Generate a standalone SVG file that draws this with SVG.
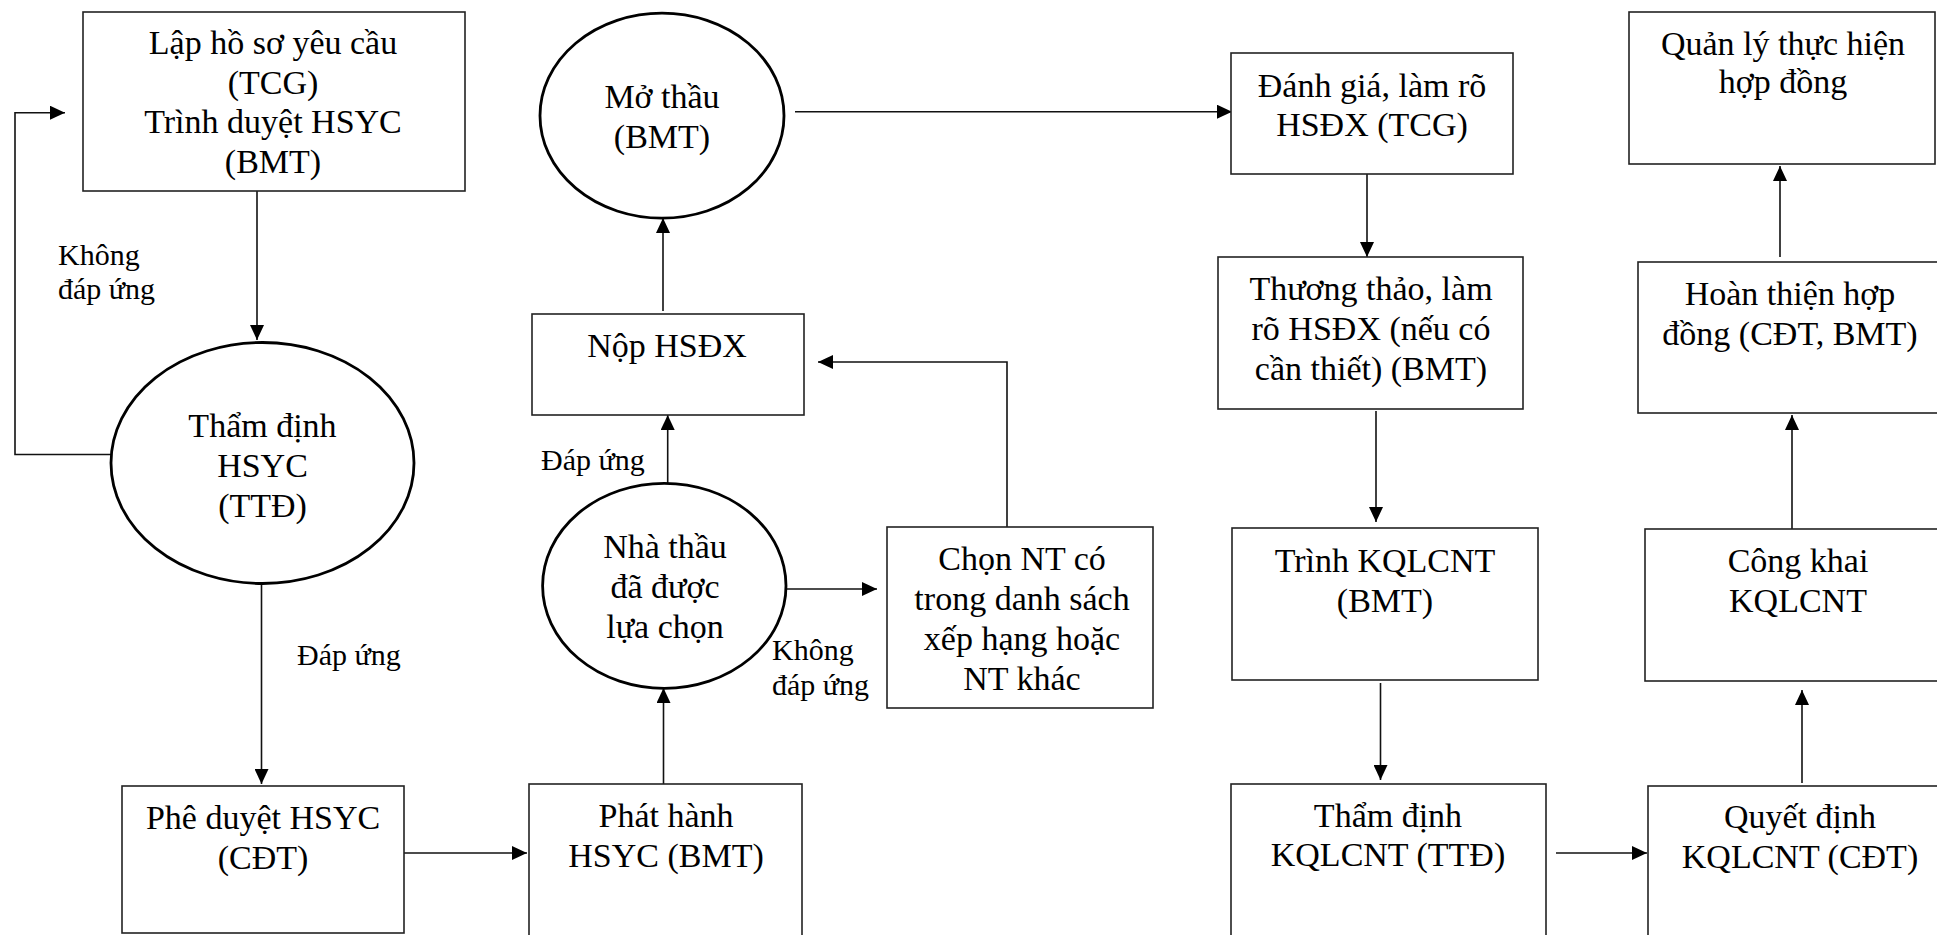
<svg xmlns="http://www.w3.org/2000/svg" width="1937" height="935" viewBox="0 0 1937 935">
  <style>
    .box { fill: #fff; stroke: #222; stroke-width: 1.6; }
    .oval { fill: #fff; stroke: #000; stroke-width: 2.8; }
    .t { font-family: "Liberation Serif", "Times New Roman", serif; font-size: 34px; fill: #000; text-anchor: middle; }
    .lbl { font-family: "Liberation Serif", "Times New Roman", serif; font-size: 30px; fill: #000; }
    .edge { fill: none; stroke: #111; stroke-width: 1.6; marker-end: url(#arrow); }
  </style>
  <defs>
    <marker id="arrow" markerUnits="userSpaceOnUse" markerWidth="16" markerHeight="14" refX="15" refY="7" orient="auto">
      <path d="M0,0 L15,7 L0,14 z" fill="#000"/>
    </marker>
  </defs>
  <rect width="1937" height="935" fill="#fff"/>

  <!-- connectors -->
  <g id="connectors">
    <path class="edge" d="M257,191 V340"/>
    <path class="edge" d="M261.5,584 V784"/>
    <path class="edge" d="M111,454.5 H15 V112.7 H65"/>
    <path class="edge" d="M404,853 H527"/>
    <path class="edge" d="M663.5,784 V688"/>
    <path class="edge" d="M667.7,485 V415"/>
    <path class="edge" d="M663,311 V218"/>
    <path class="edge" d="M786,589 H877"/>
    <path class="edge" d="M1007,527 V362 H818"/>
    <path class="edge" d="M795,111.7 H1232"/>
    <path class="edge" d="M1367,172 V257"/>
    <path class="edge" d="M1376,411 V522"/>
    <path class="edge" d="M1380.5,683 V780"/>
    <path class="edge" d="M1556,853 H1647"/>
    <path class="edge" d="M1802,783 V690"/>
    <path class="edge" d="M1792,529 V415"/>
    <path class="edge" d="M1780,257 V166"/>
  </g>

  <!-- edge labels -->
  <g id="labels">
    <text class="lbl" x="58" y="265">Không</text>
    <text class="lbl" x="58" y="299">đáp ứng</text>
    <text class="lbl" x="297" y="665">Đáp ứng</text>
    <text class="lbl" x="541" y="470">Đáp ứng</text>
    <text class="lbl" x="772" y="660">Không</text>
    <text class="lbl" x="772" y="695">đáp ứng</text>
  </g>

  <!-- nodes -->
  <g id="lap-hsyc">
    <rect class="box" x="83" y="12" width="382" height="179"/>
    <text class="t" x="273" y="54">Lập hồ sơ yêu cầu</text>
    <text class="t" x="273" y="94">(TCG)</text>
    <text class="t" x="273" y="133">Trình duyệt HSYC</text>
    <text class="t" x="273" y="173">(BMT)</text>
  </g>
  <g id="tham-dinh-hsyc">
    <ellipse class="oval" cx="262.5" cy="463" rx="151.5" ry="120.5"/>
    <text class="t" x="262.5" y="437">Thẩm định</text>
    <text class="t" x="262.5" y="477">HSYC</text>
    <text class="t" x="262.5" y="517">(TTĐ)</text>
  </g>
  <g id="phe-duyet">
    <rect class="box" x="122" y="786" width="282" height="147"/>
    <text class="t" x="263" y="829">Phê duyệt HSYC</text>
    <text class="t" x="263" y="869">(CĐT)</text>
  </g>
  <g id="phat-hanh">
    <rect class="box" x="529" y="784" width="273" height="200"/>
    <text class="t" x="666" y="827">Phát hành</text>
    <text class="t" x="666" y="867">HSYC (BMT)</text>
  </g>
  <g id="nha-thau">
    <ellipse class="oval" cx="664.3" cy="585.8" rx="121.7" ry="102.5"/>
    <text class="t" x="665" y="558">Nhà thầu</text>
    <text class="t" x="665" y="598">đã được</text>
    <text class="t" x="665" y="638">lựa chọn</text>
  </g>
  <g id="nop-hsdx">
    <rect class="box" x="532" y="314" width="272" height="101"/>
    <text class="t" x="667" y="357">Nộp HSĐX</text>
  </g>
  <g id="mo-thau">
    <ellipse class="oval" cx="662" cy="115.7" rx="122" ry="102.5"/>
    <text class="t" x="662" y="108">Mở thầu</text>
    <text class="t" x="662" y="148">(BMT)</text>
  </g>
  <g id="chon-nt">
    <rect class="box" x="887" y="527" width="266" height="181"/>
    <text class="t" x="1022" y="570">Chọn NT có</text>
    <text class="t" x="1022" y="610">trong danh sách</text>
    <text class="t" x="1022" y="650">xếp hạng hoặc</text>
    <text class="t" x="1022" y="690">NT khác</text>
  </g>
  <g id="danh-gia">
    <rect class="box" x="1231" y="53" width="282" height="121"/>
    <text class="t" x="1372" y="97">Đánh giá, làm rõ</text>
    <text class="t" x="1372" y="136">HSĐX (TCG)</text>
  </g>
  <g id="thuong-thao">
    <rect class="box" x="1218" y="257" width="305" height="152"/>
    <text class="t" x="1371" y="300">Thương thảo, làm</text>
    <text class="t" x="1371" y="340">rõ HSĐX (nếu có</text>
    <text class="t" x="1371" y="380">cần thiết) (BMT)</text>
  </g>
  <g id="trinh-kqlcnt">
    <rect class="box" x="1232" y="528" width="306" height="152"/>
    <text class="t" x="1385" y="572">Trình KQLCNT</text>
    <text class="t" x="1385" y="612">(BMT)</text>
  </g>
  <g id="tham-dinh-kqlcnt">
    <rect class="box" x="1231" y="784" width="315" height="200"/>
    <text class="t" x="1388" y="827">Thẩm định</text>
    <text class="t" x="1388" y="866">KQLCNT (TTĐ)</text>
  </g>
  <g id="quyet-dinh">
    <rect class="box" x="1648" y="786" width="320" height="200"/>
    <text class="t" x="1800" y="828">Quyết định</text>
    <text class="t" x="1800" y="868">KQLCNT (CĐT)</text>
  </g>
  <g id="cong-khai">
    <rect class="box" x="1645" y="529" width="320" height="152"/>
    <text class="t" x="1798" y="572">Công khai</text>
    <text class="t" x="1798" y="612">KQLCNT</text>
  </g>
  <g id="hoan-thien">
    <rect class="box" x="1638" y="262" width="320" height="151"/>
    <text class="t" x="1790" y="305">Hoàn thiện hợp</text>
    <text class="t" x="1790" y="345">đồng (CĐT, BMT)</text>
  </g>
  <g id="quan-ly">
    <rect class="box" x="1629" y="12" width="306" height="152"/>
    <text class="t" x="1783" y="55">Quản lý thực hiện</text>
    <text class="t" x="1783" y="93">hợp đồng</text>
  </g>
</svg>
